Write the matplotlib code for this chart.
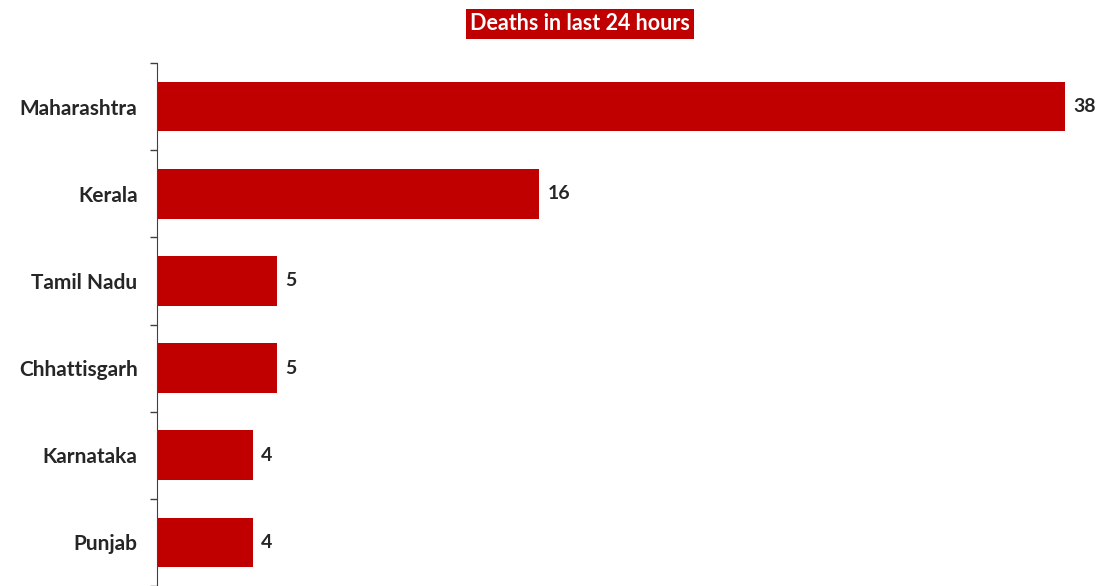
import numpy as np
import matplotlib.pyplot as plt

states = ['Maharashtra', 'Kerala', 'Tamil Nadu', 'Chhattisgarh', 'Karnataka', 'Punjab']
deaths = [38, 16, 5, 5, 4, 4]

plt.rcParams['font.family'] = ['Lato', 'DejaVu Sans']

fig = plt.figure(figsize=(10.98, 5.86), dpi=100)
# axes: left spine at x=157px, top at y=63px, runs to the bottom edge
ax = fig.add_axes([157 / 1098, 0.0, (1098 - 157) / 1098, (586 - 63) / 586])

y = np.arange(len(states))
ax.barh(y, deaths, height=0.57, color='#C00000')

ax.set_ylim(-0.5 + 523 / 88, -0.5)
ax.set_xlim(0, 941 / 23.9)

for yi, v in zip(y, deaths):
    ax.annotate(str(v), (v, yi), xytext=(6, 0), textcoords='offset points',
                va='center', ha='left', fontsize=14, fontweight='bold', color='#262626')

ax.set_yticks(y)
ax.set_yticklabels(states, fontsize=15, fontweight='bold', color='#262626')
ax.set_yticks(np.arange(-0.5, len(states), 1), minor=True)
ax.tick_params(axis='y', which='major', length=0, pad=14)
ax.tick_params(axis='y', which='minor', length=5, width=1, color='#404040')

ax.set_xticks([])
for s in ['top', 'right', 'bottom']:
    ax.spines[s].set_visible(False)
ax.spines['left'].set_color('#404040')

fig.text(580 / 1098, 1 - 24 / 586, 'Deaths in last 24 hours', ha='center', va='center',
         fontsize=15.5, fontweight='bold', color='white',
         bbox=dict(boxstyle='square,pad=0.2', facecolor='#C00000', edgecolor='none'))

fig.savefig('out.png', dpi=100)
